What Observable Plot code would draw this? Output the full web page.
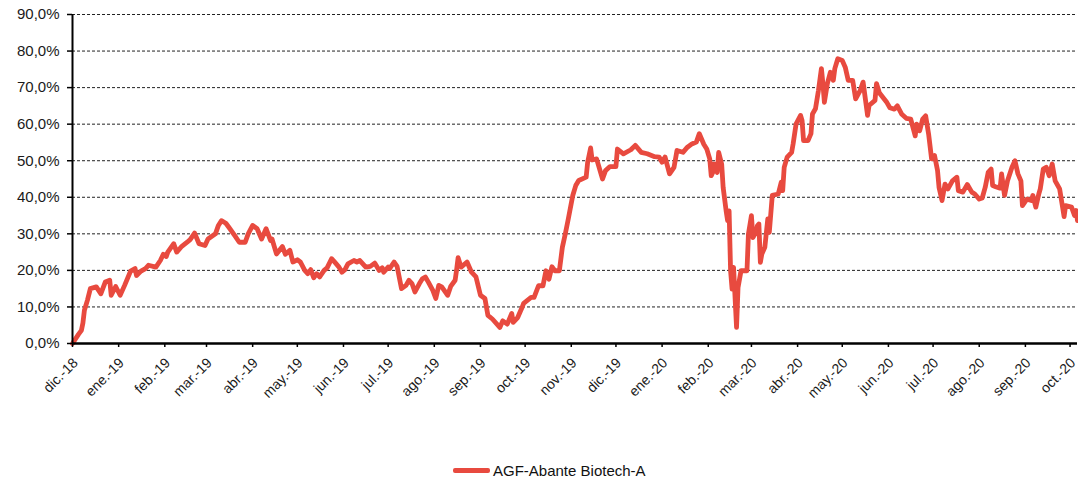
<!DOCTYPE html>
<html><head><meta charset="utf-8">
<script src="https://cdn.jsdelivr.net/npm/d3@7"></script>
<script src="https://cdn.jsdelivr.net/npm/@observablehq/plot@0.6"></script>
<style>
body{margin:0;background:#fff;font-family:"Liberation Sans",Arial,sans-serif;}
#chart{position:relative;width:1078px;height:480px;overflow:hidden;}
#legend{position:absolute;left:453px;top:462px;display:flex;align-items:center;font-size:15px;color:#111;line-height:17px;}
#legend .sw{display:inline-block;width:37px;height:4.5px;background:#e84a3f;border-radius:2px;margin-right:3px;}
</style></head><body>
<div id="chart"><div id="legend"><span class="sw"></span><span id="legendText"></span></div></div>
<script>
const seriesName = "AGF-Abante Biotech-A";
const lineColor = "#e84a3f";

const dates = [
"2018-12-01","2018-12-05","2018-12-07","2018-12-08","2018-12-09","2018-12-11","2018-12-13","2018-12-17","2018-12-20","2018-12-23","2018-12-26","2018-12-27","2018-12-30",
"2019-01-02","2019-01-05","2019-01-09","2019-01-12","2019-01-13","2019-01-16","2019-01-19","2019-01-21","2019-01-26","2019-01-29","2019-01-31",
"2019-02-02","2019-02-03","2019-02-07","2019-02-09","2019-02-12","2019-02-16","2019-02-18","2019-02-21","2019-02-24","2019-02-28",
"2019-03-02","2019-03-07","2019-03-09","2019-03-11","2019-03-14","2019-03-16","2019-03-20","2019-03-23","2019-03-27","2019-03-29",
"2019-04-01","2019-04-04","2019-04-07","2019-04-10","2019-04-13","2019-04-14","2019-04-17","2019-04-21","2019-04-23","2019-04-26","2019-04-28",
"2019-05-01","2019-05-03","2019-05-06","2019-05-08","2019-05-10","2019-05-12","2019-05-14","2019-05-16","2019-05-19","2019-05-21","2019-05-24","2019-05-26","2019-05-29","2019-05-31",
"2019-06-02","2019-06-04","2019-06-08","2019-06-10","2019-06-12","2019-06-16","2019-06-19","2019-06-22","2019-06-25","2019-06-27","2019-06-28",
"2019-07-01","2019-07-02","2019-07-05","2019-07-07","2019-07-10","2019-07-13","2019-07-15","2019-07-17","2019-07-19","2019-07-22","2019-07-24","2019-07-26","2019-07-28","2019-07-31",
"2019-08-02","2019-08-04","2019-08-06","2019-08-10","2019-08-12","2019-08-15","2019-08-16","2019-08-17","2019-08-19","2019-08-23","2019-08-26","2019-08-29",
"2019-09-01","2019-09-04","2019-09-06","2019-09-09","2019-09-14","2019-09-16","2019-09-19","2019-09-22","2019-09-23","2019-09-26","2019-09-29","2019-09-30",
"2019-10-05","2019-10-07","2019-10-10","2019-10-13","2019-10-15","2019-10-17","2019-10-19","2019-10-21","2019-10-24","2019-10-26","2019-10-28","2019-10-30",
"2019-11-02","2019-11-04","2019-11-06","2019-11-11","2019-11-12","2019-11-14","2019-11-15","2019-11-18","2019-11-22","2019-11-24","2019-11-27",
"2019-12-01","2019-12-02","2019-12-06","2019-12-11","2019-12-14","2019-12-18","2019-12-22","2019-12-27","2019-12-30",
"2020-01-01","2020-01-03","2020-01-06","2020-01-09","2020-01-11","2020-01-15","2020-01-18","2020-01-21","2020-01-24","2020-01-26","2020-01-29","2020-01-31",
"2020-02-02","2020-02-03","2020-02-04","2020-02-05","2020-02-07","2020-02-08","2020-02-10","2020-02-11","2020-02-13","2020-02-14","2020-02-15","2020-02-16","2020-02-17","2020-02-18","2020-02-20","2020-02-21","2020-02-23","2020-02-27","2020-02-28",
"2020-03-01","2020-03-02","2020-03-04","2020-03-05","2020-03-06","2020-03-07","2020-03-08","2020-03-10","2020-03-12","2020-03-13","2020-03-15","2020-03-19","2020-03-21","2020-03-22","2020-03-23","2020-03-25","2020-03-28","2020-03-29","2020-03-31",
"2020-04-03","2020-04-04","2020-04-05","2020-04-08","2020-04-10","2020-04-11","2020-04-13","2020-04-15","2020-04-17","2020-04-18","2020-04-19","2020-04-21","2020-04-23","2020-04-25","2020-04-26","2020-04-28",
"2020-05-01","2020-05-03","2020-05-05","2020-05-08","2020-05-10","2020-05-13","2020-05-15","2020-05-18","2020-05-19","2020-05-23","2020-05-24","2020-05-26","2020-05-31",
"2020-06-02","2020-06-05","2020-06-07","2020-06-10","2020-06-13","2020-06-16","2020-06-19","2020-06-20","2020-06-22","2020-06-24","2020-06-26","2020-06-28","2020-06-30",
"2020-07-02","2020-07-04","2020-07-05","2020-07-07","2020-07-09","2020-07-11","2020-07-14","2020-07-17","2020-07-18","2020-07-21","2020-07-24","2020-07-27","2020-07-29",
"2020-08-01","2020-08-03","2020-08-05","2020-08-07","2020-08-09","2020-08-10","2020-08-12","2020-08-15","2020-08-16","2020-08-18","2020-08-20","2020-08-23","2020-08-25","2020-08-27","2020-08-29","2020-08-30",
"2020-09-02","2020-09-05","2020-09-06","2020-09-08","2020-09-10","2020-09-11","2020-09-13","2020-09-15","2020-09-17","2020-09-19","2020-09-21","2020-09-24","2020-09-27","2020-09-28",
"2020-10-02","2020-10-04","2020-10-05","2020-10-06"
];

const values = [
0,2.5,3.6,5.6,9.1,11.8,15,15.5,13.6,16.8,17.3,13.2,15.6,
13.2,15.9,19.8,20.5,18.6,19.8,20.5,21.4,20.9,22.7,24.4,
23.8,25,27.3,25,26.4,27.7,28.4,30.2,27.3,26.8,
28.6,30,32.3,33.6,32.9,31.8,29.5,27.7,27.7,30,
32.3,31.4,28.6,31.4,28.2,28.6,24.5,26.5,24.4,25.5,22.3,
22.9,22.3,20,19.1,20.2,18,19.1,18.2,20,20.7,23.2,22.3,20.9,19.5,
20.2,21.8,22.7,22.3,22.7,20.9,21.1,22,20,20.7,19.5,
20.9,20.5,22.3,21.1,15,15.9,17.3,16.4,14.1,16.4,17.7,18.2,16.8,14.5,
12.3,15.9,15.5,13.2,15.6,17.3,20.2,23.5,20.9,22.3,19.5,18.2,
13.2,12.3,7.7,6.7,4.4,6.2,5.3,8.2,5.8,7.1,9.9,11,
12.6,12.6,15.8,15.8,19.9,17.6,21,19.9,19.9,26.3,30,34.1,
40.5,43.2,44.6,45.5,49.6,53.5,50.2,50.5,45,47.3,48.4,
48.4,53.2,51.9,53,54.2,52.3,51.9,51.1,51,
49.6,51,46.4,48.2,52.8,52.3,53.7,54.6,55.1,57.4,54.5,53.2,
50.5,45.9,46.8,49.1,46.8,52.3,49.1,42.7,36.3,33.6,36.3,19.9,14.9,20.8,4.4,15.3,19.9,19.9,30,
35,29,30.4,32.2,32.7,22.2,24.5,26.3,34.1,30.4,40.5,40.9,44.1,41.8,48.2,51,52.3,54.6,60.1,
62.4,61,55.5,55.5,57.4,62.8,64.2,69.2,75.2,71.1,66,71.1,74.2,72,75.2,77.9,
77.4,75.6,72,72,66.9,69.2,71.5,62.4,65.1,66.5,71.1,68.5,65.9,
64.5,64.1,65,62.7,61.6,61.4,56.8,60,58.2,61.4,62.3,57.3,50.5,
51.4,47.3,42.7,39.1,43.6,42.3,44.5,45.5,41.8,41.4,43.5,41.4,40.9,
39.5,39.8,42.7,46.8,47.7,43.2,42.9,42.5,46.4,40.5,44.5,48.2,50,46.4,44.5,37.7,
39.5,39.1,40.5,37.3,40.9,42.3,47.7,48.2,45.9,49.1,44.5,42.3,34.7,37.7,
37.3,35,36.4,33.6
];

const tickDates = ["2018-12-01","2019-01-01","2019-02-01","2019-03-01","2019-04-01","2019-05-01","2019-06-01","2019-07-01","2019-08-01","2019-09-01","2019-10-01","2019-11-01","2019-12-01",
"2020-01-01","2020-02-01","2020-03-01","2020-04-01","2020-05-01","2020-06-01","2020-07-01","2020-08-01","2020-09-01","2020-10-01"];
const tickLabels = ["dic.-18","ene.-19","feb.-19","mar.-19","abr.-19","may.-19","jun.-19","jul.-19","ago.-19","sep.-19","oct.-19","nov.-19","dic.-19",
"ene.-20","feb.-20","mar.-20","abr.-20","may.-20","jun.-20","jul.-20","ago.-20","sep.-20","oct.-20"];
const yTicks = [0,10,20,30,40,50,60,70,80,90];
const yTickLabels = ["0,0%","10,0%","20,0%","30,0%","40,0%","50,0%","60,0%","70,0%","80,0%","90,0%"];
const xDomain = ["2018-12-01","2020-10-06"];

const data = dates.map((d,i) => ({date: new Date(d), value: values[i]}));
const xticks = tickDates.map((d,i) => ({date: new Date(d), label: tickLabels[i]}));
const yticks = yTicks.map((v,i) => ({value: v, label: yTickLabels[i]}));

const chart = Plot.plot({
  width: 1078,
  height: 410,
  marginLeft: 72,
  marginRight: 1,
  marginTop: 14,
  marginBottom: 67,
  style: {fontFamily: '"Liberation Sans", Arial, sans-serif', background: "#fff", color: "#1a1a1a", overflow: "visible"},
  x: {type: "utc", domain: xDomain.map(d => new Date(d)), axis: null},
  y: {domain: [0, 90], axis: null},
  marks: [
    Plot.ruleY(yTicks.filter(v => v > 0), {stroke: "#222", strokeWidth: 1, strokeDasharray: "3,2"}),
    Plot.line(data, {x: "date", y: "value", stroke: lineColor, strokeWidth: 4.8, strokeLinejoin: "round", strokeLinecap: "round"}),
    Plot.ruleY([0], {stroke: "#000", strokeWidth: 2.5}),
    Plot.ruleX([new Date(xDomain[0])], {y1: 0, y2: 90, stroke: "#000", strokeWidth: 2}),
    Plot.ruleX(xticks, {x: "date", y1: 0, y2: 0, insetBottom: -4, stroke: "#000", strokeWidth: 1.5}),
    Plot.ruleY(yticks, {y: "value", x1: new Date(xDomain[0]), x2: new Date(xDomain[0]), insetLeft: -5, stroke: "#000", strokeWidth: 1.5}),
    Plot.text(xticks, {x: "date", frameAnchor: "bottom", text: "label", rotate: -45, textAnchor: "end", lineAnchor: "middle", dx: 3, dy: 17, fontSize: 14, fill: "#1a1a1a"}),
    Plot.text(yticks, {y: "value", frameAnchor: "left", text: "label", textAnchor: "end", dx: -13, fontSize: 15, fill: "#1a1a1a"})
  ]
});
document.getElementById("chart").prepend(chart);
document.getElementById("legendText").textContent = seriesName;
</script>
</body></html>
